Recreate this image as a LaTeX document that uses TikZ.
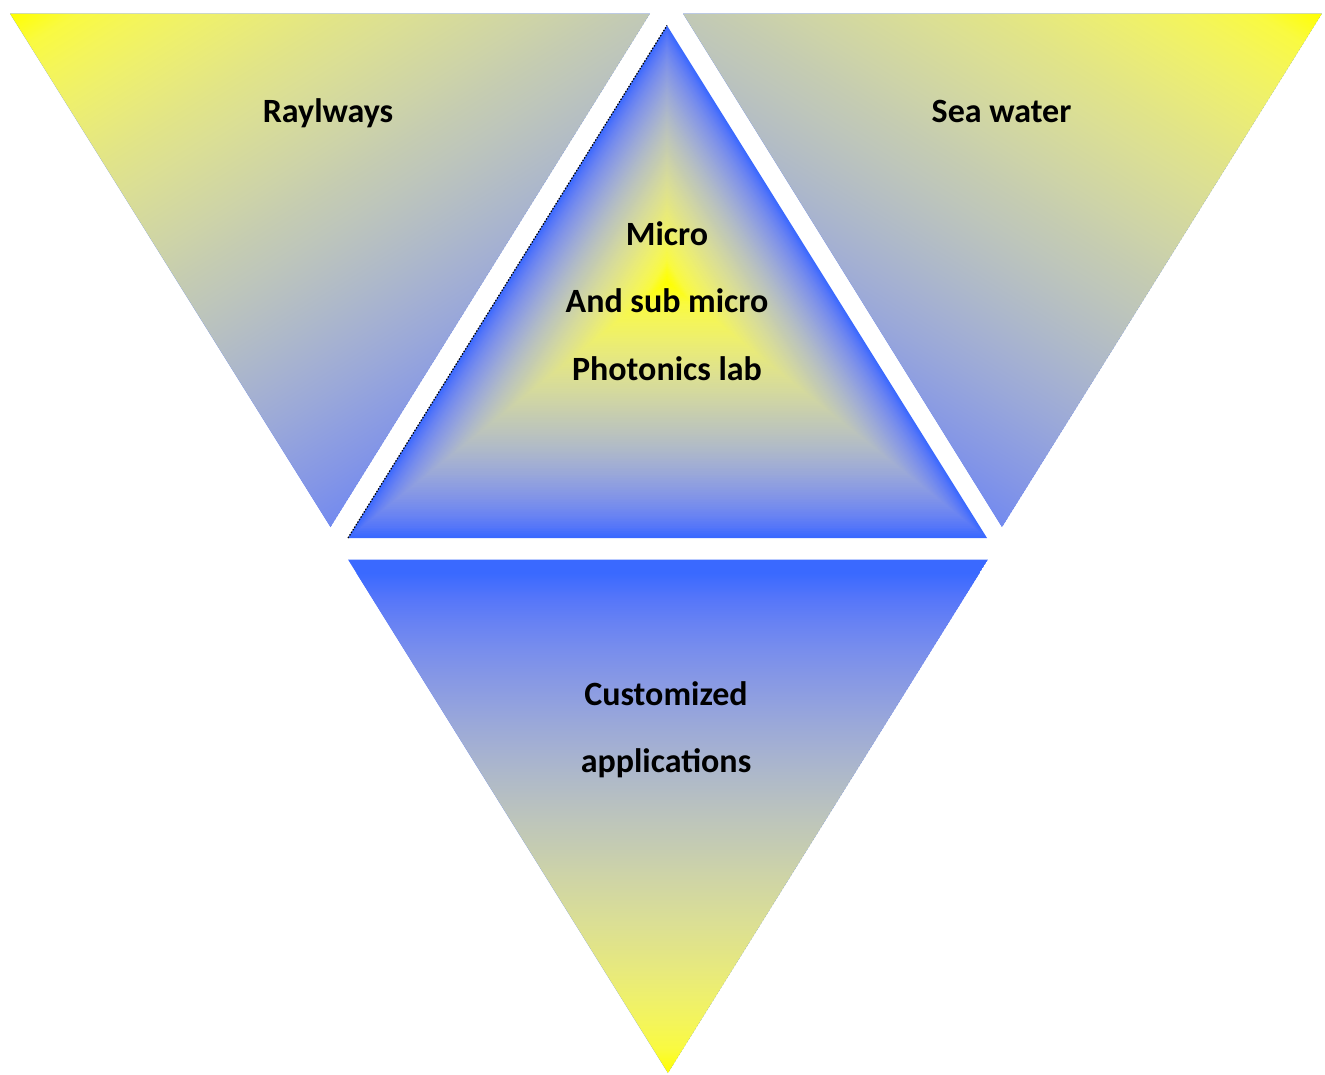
\documentclass[tikz,border=0pt]{standalone}
\usepackage{fontspec}
\setmainfont{Carlito}
\usetikzlibrary{calc}
\definecolor{g0}{RGB}{255,255,0}
\definecolor{g1}{RGB}{249,250,65}
\definecolor{g2}{RGB}{244,245,90}
\definecolor{g3}{RGB}{238,240,108}
\definecolor{g4}{RGB}{232,234,123}
\definecolor{g5}{RGB}{225,228,136}
\definecolor{g6}{RGB}{219,223,148}
\definecolor{g7}{RGB}{212,217,158}
\definecolor{g8}{RGB}{205,211,168}
\definecolor{g9}{RGB}{197,204,177}
\definecolor{g10}{RGB}{190,198,186}
\definecolor{g11}{RGB}{182,191,194}
\definecolor{g12}{RGB}{173,184,202}
\definecolor{g13}{RGB}{164,176,210}
\definecolor{g14}{RGB}{154,168,217}
\definecolor{g15}{RGB}{143,159,224}
\definecolor{g16}{RGB}{132,150,230}
\definecolor{g17}{RGB}{119,141,237}
\definecolor{g18}{RGB}{104,130,243}
\definecolor{g19}{RGB}{85,118,249}
\definecolor{g20}{RGB}{58,105,255}
\pgfdeclarehorizontalshading{llg}{100bp}{color(0bp)=(g0); color(25bp)=(g0);
 color(27.5bp)=(g1); color(30bp)=(g2); color(32.5bp)=(g3); color(35bp)=(g4);
 color(37.5bp)=(g5); color(40bp)=(g6); color(42.5bp)=(g7); color(45bp)=(g8);
 color(47.5bp)=(g9); color(50bp)=(g10); color(52.5bp)=(g11); color(55bp)=(g12);
 color(57.5bp)=(g13); color(60bp)=(g14); color(62.5bp)=(g15); color(65bp)=(g16);
 color(67.5bp)=(g17); color(70bp)=(g18); color(72.5bp)=(g19); color(75bp)=(g20);
 color(100bp)=(g20)}
\begin{document}
\begin{tikzpicture}[x=1pt, y=-1pt,
  lbl/.style={font=\fontsize{34}{40}\selectfont\bfseries, anchor=base, inner sep=0pt}]
\useasboundingbox[fill=white] (0,0) rectangle (1325,1074);
% corner coordinates
\coordinate (LTL) at (10,13.5);
\coordinate (LTR) at (650,13.5);
\coordinate (LB)  at (330.5,527);
\coordinate (RTL) at (683,13.5);
\coordinate (RTR) at (1322,13.5);
\coordinate (RB)  at (1002,527);
\coordinate (CA)  at (667,25.5);
\coordinate (CL)  at (348,538);
\coordinate (CR)  at (987,538);
\coordinate (CC)  at (667,282);
\coordinate (BTL) at (348,559.5);
\coordinate (BTR) at (988,559.5);
\coordinate (BB)  at (668,1073);
% left triangle
\begin{scope}
  \clip (LTL) -- (LTR) -- (LB) -- cycle;
  \fill[g20] (LTL) -- (LTR) -- (LB) -- cycle;
  \begin{scope}[transform canvas={shift={(10,13.5)}, rotate=-58.5}]
    \shade[shading=llg] (0,-1500) rectangle (700,1500);
  \end{scope}
\end{scope}
% right triangle
\begin{scope}
  \clip (RTL) -- (RTR) -- (RB) -- cycle;
  \fill[g20] (RTL) -- (RTR) -- (RB) -- cycle;
  \begin{scope}[transform canvas={shift={(1322,13.5)}, rotate=-121.5}]
    \shade[shading=llg] (0,-1500) rectangle (700,1500);
  \end{scope}
\end{scope}
% bottom triangle
\begin{scope}
  \clip (BTL) -- (BTR) -- (BB) -- cycle;
  \fill[g20] (BTL) -- (BTR) -- (BB) -- cycle;
  \begin{scope}[transform canvas={shift={(668,1073)}, rotate=90}]
    \shade[shading=llg] (0,-1500) rectangle (500,1500);
  \end{scope}
\end{scope}
% central triangle (path gradient)
\foreach \j in {0,...,149} {
  \pgfmathsetmacro\s{1-\j/150}
  \pgfmathsetmacro\tt{\s^1.25}
  \pgfmathtruncatemacro\k{min(19,floor(\tt*20))}
  \pgfmathtruncatemacro\kk{\k+1}
  \pgfmathtruncatemacro\p{round((\tt*20-\k)*100)}
  \fill[g\kk!\p!g\k] ($(CC)!\s!(CA)$) -- ($(CC)!\s!(CL)$) -- ($(CC)!\s!(CR)$) -- cycle;
}
\draw[line width=1.2pt, dash pattern=on 1.5pt off 1.5pt] (CL) -- (CA);
% labels
\node[lbl] (ray) at (328,122) {Raylways};
\node[lbl] (sea) at (1001.5,122) {Sea water};
\node[lbl] (m1) at (667,245) {Micro};
\node[lbl] (m2) at (667,312.5) {And sub micro};
\node[lbl] (m3) at (667,380) {Photonics lab};
\node[lbl] (c1) at (666,705) {Customized};
\node[lbl] (c2) at (666,772) {applications};
\end{tikzpicture}
\end{document}
